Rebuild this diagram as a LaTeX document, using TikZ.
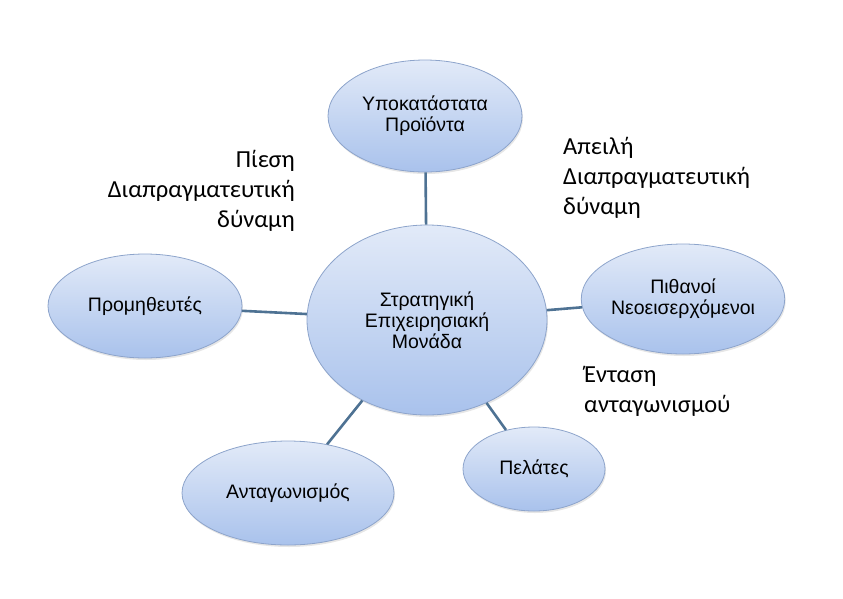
\documentclass[tikz,border=0pt]{standalone}
\usepackage{fontspec}
\setmainfont{Liberation Sans}
\newfontfamily\notefont{Carlito}
\usetikzlibrary{shapes.geometric,shadows}
\definecolor{ovaltop}{HTML}{E2EAF8}
\definecolor{ovalbot}{HTML}{A9C2EC}
\definecolor{ovaledge}{HTML}{8DA4CB}
\definecolor{linkblue}{HTML}{4E7293}

\begin{document}
\begin{tikzpicture}[
    x=1pt, y=-1pt,
    every node/.style={font=\fontsize{19.5}{21}\selectfont},
    oval/.style={
        ellipse,
        draw=ovaledge,
        line width=0.8pt,
        top color=ovaltop,
        bottom color=ovalbot,
        drop shadow={opacity=0.2, shadow xshift=1pt, shadow yshift=-2pt},
        align=center,
        inner sep=0pt,
    },
    link/.style={draw=linkblue, line width=2.6pt},
    note/.style={font=\notefont\fontsize{24.5}{30}\selectfont, inner sep=0pt},
]
\useasboundingbox (0,0) rectangle (843,598);

% === Strategic unit and its forces ===
\node[oval, minimum width=240, minimum height=190] (sbu) at (427,320) {
    Στρατηγική\\Επιχειρησιακή\\Μονάδα
};
\node[oval, minimum width=194, minimum height=112] (subst) at (425,116) {
    Υποκατάστατα\\Προϊόντα
};
\node[oval, minimum width=196, minimum height=110] (entrants) at (683,299) {
    Πιθανοί\\Νεοεισερχόμενοι
};
\node[oval, minimum width=194, minimum height=104] (suppliers) at (145,306) {Προμηθευτές};
\node[oval, minimum width=212, minimum height=104] (rivals) at (288,493) {Ανταγωνισμός};
\node[oval, minimum width=142, minimum height=84] (buyers) at (534,469) {Πελάτες};

% === Links ===
\draw[link] (sbu) -- (subst);
\draw[link] (sbu) -- (entrants);
\draw[link] (sbu) -- (suppliers);
\draw[link] (sbu) -- (rivals);
\draw[link] (sbu) -- (buyers);

% === Notes ===
\node[note, align=right, anchor=base east] (pressure) at (295,227) {
    Πίεση\\Διαπραγματευτική\\δύναμη
};
\node[note, align=left, anchor=base west] (threat) at (563,214) {
    Απειλή\\Διαπραγματευτική\\δύναμη
};
\node[note, align=left, anchor=base west] (rivalry) at (584,412) {
    Ένταση\\ανταγωνισμού
};

\end{tikzpicture}
\end{document}
